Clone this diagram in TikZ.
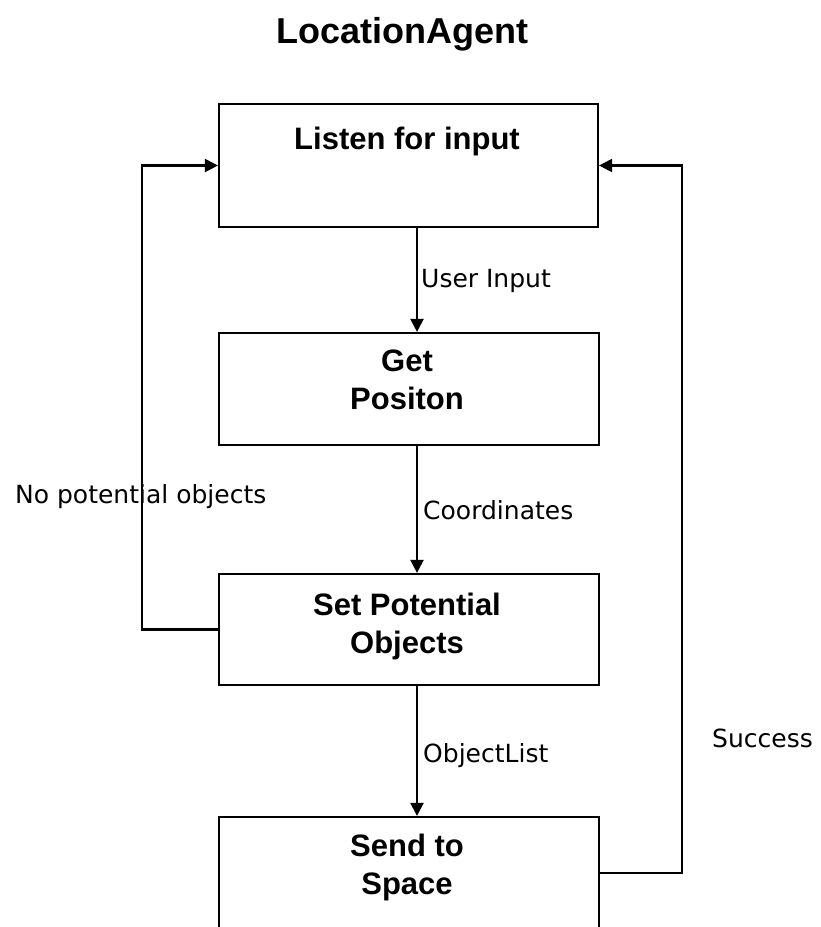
\documentclass[tikz,border=0pt]{standalone}
\usepackage{fontspec}
\setmainfont{Liberation Sans}
\newfontfamily\labelfont{DejaVu Sans}
\usetikzlibrary{arrows.meta}
\tikzset{
    mybox/.style = {rectangle, line width=2.2pt, draw=black, minimum width=380pt, minimum height=112pt, inner sep=0pt},
    mytext/.style = {align=center, anchor=base, inner sep=0pt, font=\bfseries\fontsize{31}{38}\selectfont},
    mytitle/.style = {anchor=base, inner sep=0pt, font=\bfseries\fontsize{36}{42}\selectfont},
    mylabel/.style = {anchor=base west, inner sep=0pt, font=\labelfont\fontsize{25}{30}\selectfont},
    edgea/.style = {-{Triangle[length=13pt,width=13pt]}, line width=2.2pt, black},
}

\begin{document}
\begin{tikzpicture}[x=1pt,y=1pt]
\useasboundingbox (0,0) rectangle (821,-927);
\node[mytitle] at (402,-43) (title) {LocationAgent};

\node[mybox, minimum width=379pt, minimum height=123pt] at (408.5,-165.5) (listen) {};
\node[mybox] at (409,-389) (getpos) {};
\node[mybox, minimum height=111pt] at (409,-629.5) (setobj) {};
\node[mybox] at (409,-873) (send) {};

% base anchor sits on the last line
\node[mytext] at (407,-149) (listentxt) {Listen for input};
\node[mytext] at (407,-409) (getpostxt) {Get\\Positon};
\node[mytext] at (407,-653) (setobjtxt) {Set Potential\\Objects};
\node[mytext] at (407,-894) (sendtxt) {Send to\\Space};

\node[mylabel] at (421,-287) (userin) {User Input};
\node[mylabel] at (423,-519) (coords) {Coordinates};
\node[mylabel] at (423,-762) (objlist) {ObjectList};
\node[mylabel] at (15,-503) (noobj) {No potential objects};
\node[mylabel] at (712,-747) (success) {Success};

\coordinate (spine) at (417,0);

\draw[edgea] (listen.south -| spine) -- (getpos.north -| spine);
\draw[edgea] (getpos.south -| spine) -- (setobj.north -| spine);
\draw[edgea] (setobj.south -| spine) -- (send.north -| spine);
\draw[edgea] (setobj.west) -- ++(-76,0) |- (listen.west);
\draw[edgea] (send.east) -- ++(82,0) |- (listen.east);

\end{tikzpicture}
\end{document}
